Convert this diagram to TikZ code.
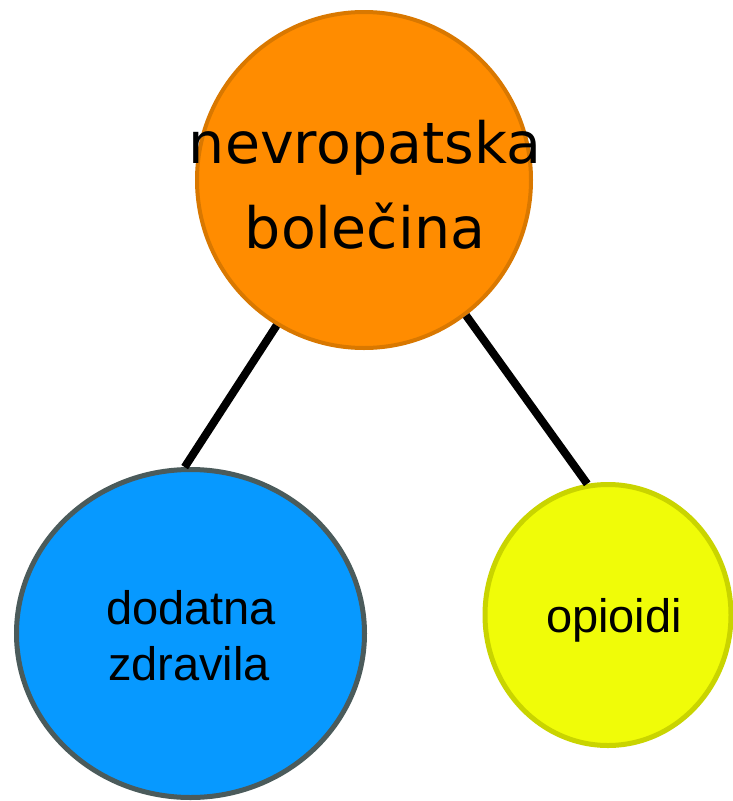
\documentclass[tikz,border=0pt]{standalone}
\usepackage{fontspec}
\setmainfont{Liberation Sans}
\newfontfamily\comicfont{DejaVu Sans}
\usetikzlibrary{shapes.geometric}
\definecolor{orfill}{HTML}{FF8C00}
\definecolor{ordraw}{HTML}{D97800}
\definecolor{blfill}{HTML}{0799FF}
\definecolor{bldraw}{HTML}{4B5B5B}
\definecolor{yefill}{HTML}{F0FC08}
\definecolor{yedraw}{HTML}{C9D400}
\tikzset{
  bubble/.style={ellipse, inner sep=0pt},
  conn/.style={line width=8pt, black},
  toptext/.style={font=\comicfont\fontsize{57}{60}\selectfont, anchor=base, inner sep=0pt},
  lowtext/.style={font=\fontsize{47}{50}\selectfont, anchor=base, inner sep=0pt}
}
\begin{document}
\begin{tikzpicture}[x=1pt,y=-1pt]
\useasboundingbox (0,0) rectangle (732,801);
\node[bubble, draw=ordraw, fill=orfill, line width=4pt, minimum width=334pt, minimum height=336pt] (top) at (364,180) {};
\node[bubble, draw=bldraw, fill=blfill, line width=5pt, minimum width=348pt, minimum height=328pt] (left) at (190.5,633.5) {};
\node[bubble, draw=yedraw, fill=yefill, line width=5pt, minimum width=246pt, minimum height=261pt] (right) at (608,615) {};
\draw[conn] (top.-121) -- (left.92);
\draw[conn] (top.-53) -- (right.99);
\node[toptext] (t1) at (365,163) {nevropatska};
\node[toptext] (t2) at (365,248) {bolečina};
\node[lowtext] (l1) at (191,624) {dodatna};
\node[lowtext] (l2) at (189,680) {zdravila};
\node[lowtext] (r1) at (614,632) {opioidi};
\end{tikzpicture}
\end{document}
